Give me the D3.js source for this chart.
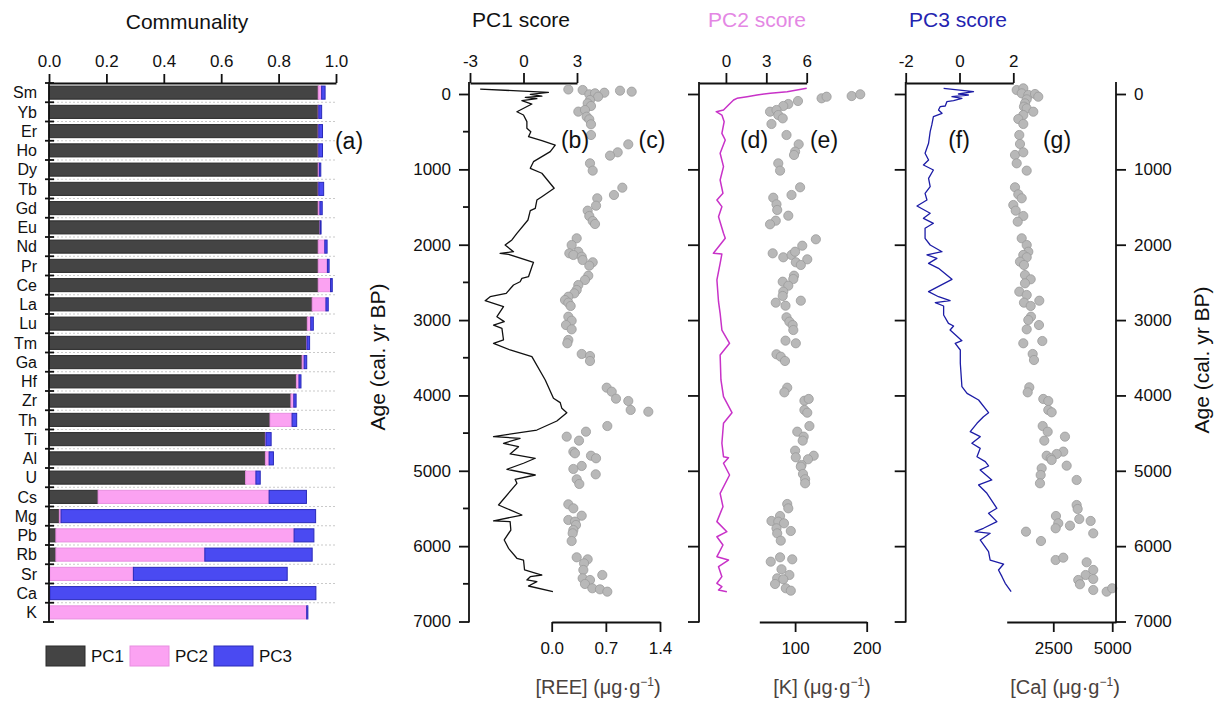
<!DOCTYPE html>
<html><head><meta charset="utf-8">
<script src="https://cdn.jsdelivr.net/npm/d3@7"></script>
<style>
body{margin:0;background:#fff}
svg{display:block}
text{font-family:Arial,"Liberation Sans",sans-serif;fill:#111}
</style>
</head><body>
<svg id="c" width="1222" height="702"></svg>
<script>
// ---------- Communality data ----------
const elements = ["Sm","Yb","Er","Ho","Dy","Tb","Gd","Eu","Nd","Pr","Ce","La","Lu","Tm","Ga","Hf","Zr","Th","Ti","Al","U","Cs","Mg","Pb","Rb","Sr","Ca","K"];
const commPC1 = [0.938,0.938,0.938,0.938,0.938,0.938,0.938,0.944,0.938,0.938,0.938,0.917,0.900,0.898,0.882,0.862,0.843,0.770,0.754,0.754,0.685,0.171,0.036,0.024,0.024,0.003,0.002,0.001];
const commPC2 = [0.012,0.002,0.002,0.002,0.004,0.002,0.006,0.001,0.023,0.032,0.043,0.048,0.012,0.001,0.007,0.009,0.010,0.077,0.002,0.013,0.036,0.596,0.006,0.830,0.519,0.291,0.001,0.897];
const commPC3 = [0.012,0.010,0.013,0.013,0.005,0.017,0.008,0.003,0.008,0.006,0.006,0.008,0.009,0.009,0.009,0.007,0.008,0.016,0.018,0.015,0.015,0.130,0.887,0.069,0.374,0.536,0.927,0.004];
const commTicks = [0,0.2,0.4,0.6,0.8,1.0];
const legendLabels = ["PC1","PC2","PC3"];

// ---------- Age axis ----------
const ageTicks = [0,1000,2000,3000,4000,5000,6000,7000];
const ageMinor = [500,1500,2500,3500,4500,5500,6500];

// ---------- PC1 score line [age, score] ----------
const pc1Line = [[-66,-2.43],[-22,1.40],[4,0.38],[27,1.03],[44,0.10],[62,0.75],[89,-0.09],[133,0.47],[235,-0.37],[279,0],[367,0.19],[455,0.19],[500,0.41],[566,0.28],[619,1.03],[677,1.78],[765,1.50],[898,0.56],[986,0.38],[1052,1.03],[1251,1.72],[1363,1.03],[1407,0.75],[1517,0.66],[1548,0.38],[1672,0.25],[1849,-0.37],[1937,-0.65],[2004,-1.03],[2093,-0.56],[2114,-1.31],[2127,-0.84],[2233,0.56],[2292,0.47],[2424,0.28],[2446,-0.09],[2491,-0.19],[2535,-0.56],[2645,-0.97],[2690,-1.87],[2743,-2.15],[2778,-1.68],[2822,-1.12],[2955,-1.49],[3021,-1.08],[3066,-1.68],[3110,-1.21],[3264,-1.12],[3308,-1.68],[3397,-0.75],[3486,0.47],[3795,1.22],[4038,1.68],[4096,2.06],[4171,2.15],[4229,2.43],[4339,1.87],[4459,0.75],[4547,-1.68],[4569,-0.19],[4635,-1.12],[4680,-0.28],[4777,-0.75],[4834,0.66],[4900,0],[4980,-0.93],[5056,0.66],[5113,-0.47],[5166,-0.37],[5454,-1.40],[5587,-0.09],[5666,-1.68],[5675,-0.75],[5786,-0.71],[5918,-1.08],[6029,-0.84],[6161,-0.37],[6184,0],[6316,0.06],[6383,1.03],[6405,0.38],[6449,0.19],[6471,0.75],[6529,0.28],[6604,1.65]];
const pc1Ticks = [-3,0,3];

// ---------- REE dots [age, value] ----------
const reeDots = [[-60,0.215],[-53,0.40],[4,0.486],[-9,0.56],[-17,0.68],[36,0.60],[-44,0.883],[-31,1.034],[80,0.495],[124,0.465],[159,0.508],[234,0.344],[212,0.43],[301,0.452],[336,0.486],[402,0.508],[544,0.508],[668,0.99],[774,0.853],[818,0.754],[920,0.495],[1017,0.53],[1243,0.913],[1340,0.805],[1384,0.589],[1482,0.573],[1548,0.465],[1619,0.486],[1685,0.53],[1725,0.56],[1915,0.323],[2004,0.258],[2093,0.344],[2114,0.228],[2136,0.28],[2159,0.388],[2203,0.40],[2233,0.53],[2278,0.486],[2411,0.473],[2468,0.43],[2535,0.344],[2601,0.323],[2645,0.292],[2690,0.215],[2734,0.172],[2769,0.215],[2813,0.245],[2955,0.215],[3008,0.258],[3066,0.185],[3123,0.258],[3264,0.215],[3308,0.202],[3450,0.388],[3477,0.495],[3543,0.495],[3897,0.711],[3950,0.776],[4043,0.831],[4074,0.99],[4193,1.021],[4216,1.249],[4406,0.719],[4481,0.443],[4547,0.194],[4600,0.353],[4746,0.28],[4768,0.301],[4800,0.508],[4834,0.573],[4936,0.388],[4976,0.28],[5047,0.569],[5113,0.323],[5175,0.357],[5445,0.215],[5498,0.28],[5596,0.388],[5653,0.215],[5675,0.301],[5719,0.314],[5786,0.28],[5830,0.271],[5932,0.258],[6148,0.323],[6175,0.465],[6228,0.418],[6316,0.409],[6383,0.654],[6427,0.40],[6449,0.495],[6502,0.43],[6559,0.525],[6573,0.624],[6604,0.719]];
const reeTicks = [0,0.7,1.4];

// ---------- PC2 score line ----------
const pc2Line = [[-75,6.0],[-31,4.55],[-9,3.3],[13,2.31],[36,1.57],[57,0.82],[80,0.57],[146,0.19],[212,-0.18],[235,-0.72],[279,-0.30],[367,-0.13],[522,-0.30],[610,-0.05],[787,-0.43],[964,-0.18],[1141,-0.43],[1318,-0.22],[1407,-0.67],[1495,-0.30],[1628,-0.55],[1849,-0.18],[1915,-0.05],[2114,-0.93],[2123,-0.30],[2247,-0.43],[2468,-0.67],[2756,-0.55],[2910,-0.43],[3132,-0.30],[3308,0.27],[3463,-0.43],[3795,-0.37],[4016,-0.18],[4229,0.45],[4370,-0.18],[4635,-0.30],[4813,-0.18],[4826,0.19],[4900,-0.18],[5056,0.27],[5299,-0.43],[5476,-0.22],[5675,-0.67],[5808,0.07],[5875,-0.67],[5985,-0.22],[6140,-0.67],[6184,0.19],[6272,-0.55],[6405,-0.30],[6493,-0.67],[6538,-0.30],[6582,-0.55],[6604,0.07]];
const pc2Ticks = [0,3,6];

// ---------- K dots ----------
const kDots = [[57,137],[36,144],[27,179],[4,191],[93,104],[133,90.5],[159,83.5],[235,65],[212,74],[279,76.5],[323,82.7],[398,67],[544,88],[668,105],[765,100],[809,98.5],[920,76.5],[1017,79],[1238,107],[1340,95],[1376,69.5],[1464,74],[1539,75],[1615,90.5],[1681,73],[1729,65],[1928,129],[2013,110],[2114,68.7],[2167,83.5],[2136,95],[2093,100],[2194,117],[2233,101],[2269,108],[2411,98.5],[2455,97.5],[2491,82.7],[2544,90.5],[2623,83.5],[2680,82.7],[2743,108],[2769,73],[2809,86.6],[2963,88],[3021,92],[3066,96.6],[3132,97.5],[3273,86.6],[3308,101],[3454,74],[3486,80],[3543,85.9],[3897,89],[3959,85],[4070,113],[4047,119],[4193,113],[4229,117],[4406,120],[4481,103],[4547,112],[4600,110.6],[4733,100],[4821,101],[4800,126],[4847,118],[4923,109],[4945,108],[5042,111],[5113,114],[5166,114],[5441,89],[5498,90.5],[5600,79],[5666,67],[5675,76.5],[5697,84.5],[5763,74],[5799,94],[5830,75],[5927,80],[6206,66],[6148,79],[6175,96],[6307,81],[6383,92],[6427,75],[6440,83.5],[6502,72],[6559,87],[6591,94]];
const kTicks = [100,200];

// ---------- PC3 score line ----------
const pc3Line = [[-75,-0.59],[-31,0.52],[0,-0.04],[13,0.33],[36,-0.28],[57,0.09],[89,-0.22],[102,-0.47],[159,-0.53],[168,-0.72],[212,-0.78],[256,-0.65],[301,-0.97],[411,-1.03],[500,-1.09],[654,-1.15],[787,-1.28],[876,-1.15],[942,-1.34],[1008,-0.97],[1119,-1.15],[1230,-1.09],[1318,-1.28],[1407,-1.21],[1486,-1.58],[1583,-1.09],[1650,-1.34],[1716,-0.97],[1782,-1.28],[1915,-1.28],[2004,-1.09],[2093,-0.65],[2136,-1.21],[2181,-0.84],[2247,-1.15],[2313,-0.78],[2459,-0.28],[2623,-1.15],[2690,-0.78],[2743,-0.35],[2769,-0.90],[2813,-0.59],[2933,-0.59],[3043,-0.41],[3079,-0.22],[3132,-0.35],[3273,0.09],[3308,-0.16],[3397,0.03],[3574,0.03],[3884,0.09],[3972,0.28],[4061,0.71],[4229,1.08],[4282,0.89],[4370,0.65],[4481,0.40],[4547,0.77],[4635,0.46],[4702,0.77],[4813,0.65],[4879,0.96],[4936,1.08],[4989,0.77],[5122,1.20],[5188,0.71],[5299,1.02],[5498,1.39],[5564,1.08],[5675,1.39],[5763,0.89],[5808,0.58],[5830,1.14],[5918,0.77],[6073,1.08],[6184,1.14],[6237,1.64],[6316,1.45],[6405,1.58],[6493,1.70],[6604,1.92]];
const pc3Ticks = [-2,0,2];

// ---------- Ca dots ----------
const caDots = [[-53,949],[-75,1229],[-9,1161],[13,1441],[0,1725],[36,1864],[71,1373],[124,1301],[168,1258],[190,1373],[235,1653],[279,1229],[332,1017],[398,1229],[544,1059],[663,1089],[809,877],[774,1229],[920,949],[1017,1373],[1238,877],[1331,1017],[1384,1161],[1473,805],[1548,907],[1619,1229],[1694,992],[1915,1161],[2004,1373],[2093,1441],[2136,1229],[2167,1373],[2225,1089],[2269,1258],[2402,1301],[2459,1542],[2512,1301],[2623,1059],[2667,1373],[2743,1907],[2769,1258],[2813,1542],[2955,1555],[2999,1441],[3123,1373],[3066,1894],[3308,1229],[3278,2034],[3450,1627],[3530,1682],[3892,1483],[3959,1415],[4047,2076],[4074,2288],[4193,2288],[4224,2432],[4406,2051],[4481,2263],[4547,2996],[4600,2119],[4746,2924],[4777,2644],[4800,2220],[4834,2390],[4932,3068],[4967,2008],[4857,2432],[5056,1966],[5166,1936],[5122,3491],[5454,3491],[5507,3534],[5600,2614],[5697,2712],[5640,3602],[5728,3208],[5666,4085],[5763,2601],[5830,4195],[5808,1343],[5932,1979],[6184,2601],[6153,2924],[6214,3915],[6316,4195],[6383,3873],[6436,4195],[6449,3559],[6506,3631],[6582,4195],[6604,4763],[6559,5000]];
const caTicks = [2500,5000];

// ================= drawing =================
const svg = d3.select("#c");
const AX = "#111";
const AXW = 1.8;
const TFS = 17;
const intFmt = d => String(d);
const dec1 = d => d.toFixed(1);

// ----- Panel (a): communality -----
const xC = d3.scaleLinear().domain([0,1]).range([49,336]);
const yC = d3.scaleBand().domain(elements).range([83,622]).paddingInner(0.32).paddingOuter(0.16);
const colPC = ["#444444","#fba2f2","#4a4af2"];
const strokePC = ["#2a2a2a","#e88ee0","#2a2ab8"];
const step = yC.step();
const gA = svg.append("g");
d3.range(1,elements.length).forEach(i=>{
  gA.append("line").attr("x1",49).attr("x2",336).attr("y1",83+i*step).attr("y2",83+i*step)
    .attr("stroke","#bbb").attr("stroke-width",0.8).attr("stroke-dasharray","2,2");
});
const stacks = elements.map((e,i)=>{
  const a = commPC1[i], b = commPC2[i], c = commPC3[i];
  return [[0,a],[a,a+b],[a+b,a+b+c]];
});
elements.forEach((e,i)=>{
  stacks[i].forEach((s,k)=>{
    gA.append("rect").attr("x",xC(s[0])).attr("y",yC(e))
      .attr("width",Math.max(0.5,xC(s[1])-xC(s[0]))).attr("height",yC.bandwidth())
      .attr("fill",colPC[k]).attr("stroke",strokePC[k]).attr("stroke-width",1);
  });
});
const axC = gA.append("g").attr("transform","translate(0,83)")
  .call(d3.axisTop(xC).tickValues(commTicks).tickFormat(dec1).tickSize(9).tickSizeOuter(0).tickPadding(7));
axC.select(".domain").attr("stroke",AX).attr("stroke-width",AXW);
axC.selectAll(".tick line").attr("stroke",AX).attr("stroke-width",AXW);
axC.selectAll(".tick text").attr("font-size",TFS).attr("fill","#111");
gA.append("line").attr("x1",49).attr("x2",49).attr("y1",82).attr("y2",622).attr("stroke",AX).attr("stroke-width",AXW);
d3.range(0,elements.length+1).forEach(i=>{
  const y = 83+i*step;
  gA.append("line").attr("x1",i===elements.length?43:45).attr("x2",54).attr("y1",y).attr("y2",y).attr("stroke",AX).attr("stroke-width",AXW);
});
elements.forEach(e=>{
  gA.append("text").attr("x",37).attr("y",yC(e)+yC.bandwidth()/2).attr("dy","0.36em")
    .attr("text-anchor","end").attr("font-size",16).text(e);
});
gA.append("text").attr("x",187).attr("y",29).attr("text-anchor","middle").attr("font-size",21).text("Communality");
gA.append("text").attr("x",349).attr("y",149).attr("text-anchor","middle").attr("font-size",23).text("(a)");
const legX = [46,130,214];
legendLabels.forEach((l,k)=>{
  svg.append("rect").attr("x",legX[k]).attr("y",646).attr("width",39).attr("height",20)
    .attr("fill",colPC[k]).attr("stroke",strokePC[k]).attr("stroke-width",1);
  svg.append("text").attr("x",legX[k]+45).attr("y",662).attr("font-size",17).text(l);
});

// ----- Age scale -----
const yAge = d3.scaleLinear().domain([0,7000]).range([94,621.5]);

function styleAxis(g){
  g.select(".domain").remove();
  g.selectAll(".tick line").attr("stroke",AX).attr("stroke-width",AXW);
  g.selectAll(".tick text").attr("font-size",TFS).attr("fill","#111");
}
function vline(x){
  svg.append("line").attr("x1",x).attr("x2",x).attr("y1",82).attr("y2",622.5).attr("stroke",AX).attr("stroke-width",AXW);
}
function topAxis(scale, ticks, fmt){
  const g = svg.append("g").attr("transform","translate(0,83)")
    .call(d3.axisTop(scale).tickValues(ticks).tickFormat(fmt).tickSize(10).tickSizeOuter(0).tickPadding(6));
  g.select(".domain").attr("stroke",AX).attr("stroke-width",AXW);
  g.selectAll(".tick line").attr("stroke",AX).attr("stroke-width",AXW);
  g.selectAll(".tick text").attr("font-size",TFS).attr("fill","#111");
}
function bottomAxis(scale, ticks, fmt){
  const g = svg.append("g").attr("transform","translate(0,622)")
    .call(d3.axisBottom(scale).tickValues(ticks).tickFormat(fmt).tickSize(10).tickSizeOuter(0).tickPadding(10));
  g.select(".domain").attr("stroke",AX).attr("stroke-width",AXW);
  g.selectAll(".tick line").attr("stroke",AX).attr("stroke-width",AXW);
  g.selectAll(".tick text").attr("font-size",TFS).attr("fill","#111");
}
function dots(data, xs){
  svg.append("g").selectAll("circle").data(data).join("circle")
    .attr("cx",d=>xs(d[1])).attr("cy",d=>yAge(d[0])).attr("r",4.6)
    .attr("fill","#b8b8b8").attr("stroke","#9a9a9a").attr("stroke-width",0.8);
}
function scoreLine(data, xs, color, w){
  svg.append("path").datum(data)
    .attr("d",d3.line().x(d=>xs(d[1])).y(d=>yAge(d[0])))
    .attr("fill","none").attr("stroke",color).attr("stroke-width",w).attr("stroke-linejoin","round");
}
function unitTitle(x, label){
  const t = svg.append("text").attr("x",x).attr("y",694).attr("text-anchor","middle").attr("font-size",20).style("fill","#4a423d");
  t.append("tspan").text(label+" (\u03bcg\u00b7g");
  t.append("tspan").attr("dy",-8).attr("font-size",12).text("\u22121");
  t.append("tspan").attr("dy",8).text(")");
}

// ----- Panel b/c -----
const xPC1 = d3.scaleLinear().domain([-3,3]).range([470,577]);
const xREE = d3.scaleLinear().domain([0,1.4]).range([551.7,660]);
vline(469);
const gL = svg.append("g").attr("transform","translate(469,0)")
  .call(d3.axisLeft(yAge).tickValues(ageTicks).tickFormat(intFmt).tickSize(10).tickPadding(8));
styleAxis(gL);
ageMinor.forEach(a=>{
  svg.append("line").attr("x1",463).attr("x2",469).attr("y1",yAge(a)).attr("y2",yAge(a)).attr("stroke",AX).attr("stroke-width",AXW);
});
topAxis(xPC1, pc1Ticks, intFmt);
bottomAxis(xREE, reeTicks, dec1);
scoreLine(pc1Line, xPC1, "#111", 1.3);
dots(reeDots, xREE);
svg.append("text").attr("x",521).attr("y",27).attr("text-anchor","middle").attr("font-size",21).text("PC1 score");
svg.append("text").attr("x",575).attr("y",148).attr("text-anchor","middle").attr("font-size",23).text("(b)");
svg.append("text").attr("x",652).attr("y",148).attr("text-anchor","middle").attr("font-size",23).text("(c)");
unitTitle(598,"[REE]");
svg.append("text").attr("transform","translate(385,357) rotate(-90)").attr("text-anchor","middle").attr("font-size",21).text("Age (cal. yr BP)");

// ----- Panel d/e -----
const xPC2 = d3.scaleLinear().domain([-2,6]).range([699,806.7]);
const xK = d3.scaleLinear().domain([50,200]).range([759.3,866.7]);
vline(699);
const gL2 = svg.append("g").attr("transform","translate(699,0)")
  .call(d3.axisLeft(yAge).tickValues(ageTicks).tickSize(11).tickFormat(""));
styleAxis(gL2);
topAxis(xPC2, pc2Ticks, intFmt);
bottomAxis(xK, kTicks, intFmt);
scoreLine(pc2Line, xPC2, "#c832c8", 1.5);
dots(kDots, xK);
svg.append("text").attr("x",757).attr("y",27).attr("text-anchor","middle").attr("font-size",21).style("fill","#e487e4").text("PC2 score");
svg.append("text").attr("x",754).attr("y",148).attr("text-anchor","middle").attr("font-size",23).text("(d)");
svg.append("text").attr("x",824).attr("y",148).attr("text-anchor","middle").attr("font-size",23).text("(e)");
unitTitle(822,"[K]");

// ----- Panel f/g -----
const xPC3 = d3.scaleLinear().domain([-2,2]).range([905.7,1013.3]);
const xCa = d3.scaleLinear().domain([525,5160]).range([1006.7,1116]);
vline(905.7);
const gL3 = svg.append("g").attr("transform","translate(905.7,0)")
  .call(d3.axisLeft(yAge).tickValues(ageTicks).tickSize(11).tickFormat(""));
styleAxis(gL3);
topAxis(xPC3, pc3Ticks, intFmt);
bottomAxis(xCa, caTicks, intFmt);
scoreLine(pc3Line, xPC3, "#1c1ca6", 1.3);
dots(caDots, xCa);
vline(1116);
const gR = svg.append("g").attr("transform","translate(1116,0)")
  .call(d3.axisRight(yAge).tickValues(ageTicks).tickFormat(intFmt).tickSize(10).tickPadding(8));
styleAxis(gR);
svg.append("text").attr("x",958).attr("y",27).attr("text-anchor","middle").attr("font-size",21).style("fill","#2424b0").text("PC3 score");
svg.append("text").attr("x",959).attr("y",148).attr("text-anchor","middle").attr("font-size",23).text("(f)");
svg.append("text").attr("x",1057).attr("y",148).attr("text-anchor","middle").attr("font-size",23).text("(g)");
unitTitle(1065,"[Ca]");
svg.append("text").attr("transform","translate(1209,360) rotate(-90)").attr("text-anchor","middle").attr("font-size",21).text("Age (cal. yr BP)");
</script>
</body></html>
